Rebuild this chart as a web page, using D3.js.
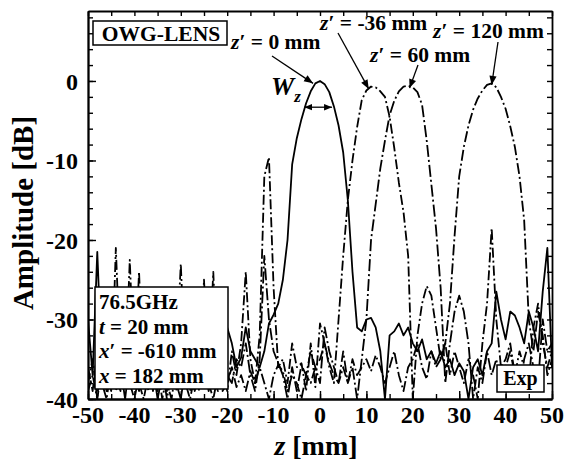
<!DOCTYPE html>
<html>
<head>
<meta charset="utf-8">
<script src="https://cdn.jsdelivr.net/npm/d3@7"></script>
<style>
  html, body { margin: 0; padding: 0; background: #fff; }
  svg { display: block; font-family: "Liberation Serif", "Times New Roman", serif; font-weight: bold; }
</style>
</head>
<body>
<svg id="chart" width="565" height="461"></svg>
<script>
// Scan positions z [mm]
const zPositions = d3.range(-50, 51, 1);

// Measured amplitude [dB] for each z' focus setting
const ampZ0 = [
  -30, -37, -21.5, -36, -39, -34, -38, -36, -40, -35,
  -37, -39, -34, -38, -36, -40, -37, -39, -35, -38,
  -40, -36, -34, -39, -37, -35, -39, -36, -38, -34,
  -31, -33, -36, -34.8, -31, -34, -35, -36, -34, -30.5,
  -29.4, -28, -25, -20, -10.5, -7.2, -4.8, -2.8, -1.3, -0.3,
  0,
  -0.4, -1.4, -3.2, -5.6, -9, -15, -24, -31, -31.5, -30,
  -29.8, -31, -34, -40, -32, -31.5, -30.5, -32, -31, -33,
  -34, -32.5, -35, -34, -35.5, -34, -36, -35, -37, -35.5,
  -36.5, -40, -36, -35, -37, -34, -33, -26.5, -30, -32.5,
  -29, -29.5, -31, -33, -29, -31, -34, -26.5, -21, -36
];
const ampZm36 = [
  -38, -35, -40, -33, -37, -39, -21, -36, -38, -22.5,
  -37, -24, -38, -35, -39, -36, -40, -37, -38, -35,
  -23, -37, -39, -36, -38, -25, -37, -24, -38, -36,
  -39, -34, -37, -33, -24, -35, -38, -32, -12, -9.6,
  -26, -36, -35, -38, -33, -36, -35.5, -39, -33, -38.5,
  -30.5,
  -33, -36, -38, -30, -22, -15, -10, -5.8, -2.4, -1.2,
  -0.7, -0.8, -1.3, -2, -4.5, -8.4, -12.8, -16.5, -22, -40,
  -32, -28, -25.8, -27, -31, -35, -33, -37, -34, -36,
  -38, -35, -37, -40, -33, -28, -18.5, -30, -36, -35,
  -33, -37, -34, -36, -38, -31, -28, -33, -36, -34
];
const ampZ60 = [
  -36, -39, -34, -38, -40, -36, -37, -39, -35, -38,
  -36, -38, -40, -37, -35, -39, -36, -38, -40, -36,
  -38, -35, -37, -39, -36, -38, -35, -37, -39, -34,
  -37, -38, -35, -36, -33, -37, -39, -35, -22, -30,
  -34, -35.5, -37, -40, -36, -39, -35.7, -37, -34, -36,
  -38,
  -31, -34, -36, -38, -34, -38, -36, -40, -35, -30,
  -20, -15.5, -11, -7.5, -4.3, -2.5, -1.3, -0.7, -0.6, -0.8,
  -1.4, -3, -7.5, -13, -18.5, -26, -38, -33, -29, -27,
  -29, -33, -40, -36, -38, -34, -37, -35, -38, -36,
  -34, -37, -39, -35, -33, -36, -38, -30, -34, -33
];
const ampZ120 = [
  -39, -37, -40, -36, -38, -35, -39, -37, -36, -38,
  -40, -37, -35, -39, -37, -38, -36, -40, -37, -39,
  -36, -38, -40, -37, -39, -36, -38, -40, -37, -39,
  -38, -36, -38.5, -37, -39, -36.5, -38, -36, -38, -40,
  -37, -35.7, -36.5, -39, -37, -38, -40, -37, -38, -36,
  -35,
  -33, -35.5, -37, -38, -36, -38, -35, -37, -36, -35,
  -36.5, -34.5, -36, -38, -36, -34, -37, -39, -36, -35,
  -33, -36, -37.5, -34, -36, -35, -33, -28, -19.5, -12,
  -8.3, -5.6, -3.6, -2.2, -1.2, -0.5, -0.3, -0.8, -2, -3.5,
  -5.7, -8.3, -12, -17.5, -30, -34, -29, -32, -37, -35
];

const seriesList = [
  { name: "z'=0",   values: ampZ0,   dash: null },
  { name: "z'=-36", values: ampZm36, dash: "10,3,2,3" },
  { name: "z'=60",  values: ampZ60,  dash: "12,3,2,3" },
  { name: "z'=120", values: ampZ120, dash: "11,3,2,3" }
];

const xTicksMajor = [-50, -40, -30, -20, -10, 0, 10, 20, 30, 40, 50];
const yTicksMajor = [-40, -30, -20, -10, 0];

const svg = d3.select("#chart");
const plotL = 88, plotR = 552, plotT = 11, plotB = 399;

const x = d3.scaleLinear().domain([-50, 50]).range([plotL, plotR]);
const y = d3.scaleLinear().domain([-40, 8.8]).range([plotB, plotT]);

// arrow markers
const defs = svg.append("defs");
defs.append("marker").attr("id", "arrow").attr("viewBox", "0 0 10 10")
  .attr("refX", 10).attr("refY", 5).attr("markerWidth", 10).attr("markerHeight", 9)
  .attr("markerUnits", "userSpaceOnUse").attr("orient", "auto")
  .append("path").attr("d", "M0,1 L10,5 L0,9 Z").attr("fill", "#000");
defs.append("marker").attr("id", "arrowStart").attr("viewBox", "0 0 10 10")
  .attr("refX", 0).attr("refY", 5).attr("markerWidth", 8).attr("markerHeight", 8)
  .attr("markerUnits", "userSpaceOnUse").attr("orient", "auto")
  .append("path").attr("d", "M10,1 L0,5 L10,9 Z").attr("fill", "#000");
defs.append("marker").attr("id", "arrowEnd2").attr("viewBox", "0 0 10 10")
  .attr("refX", 10).attr("refY", 5).attr("markerWidth", 8).attr("markerHeight", 8)
  .attr("markerUnits", "userSpaceOnUse").attr("orient", "auto")
  .append("path").attr("d", "M0,1 L10,5 L0,9 Z").attr("fill", "#000");
defs.append("clipPath").attr("id", "plotClip")
  .append("rect").attr("x", plotL).attr("y", plotT).attr("width", plotR - plotL).attr("height", plotB - plotT);

// curves
const line = d3.line().x((d, i) => x(zPositions[i])).y(d => y(d));
const curves = svg.append("g").attr("clip-path", "url(#plotClip)");
seriesList.forEach(s => {
  curves.append("path")
    .datum(s.values)
    .attr("d", line)
    .attr("fill", "none")
    .attr("stroke", "#000")
    .attr("stroke-width", 1.8)
    .attr("stroke-linejoin", "round")
    .attr("stroke-dasharray", s.dash);
});

// axes (ticks inward, mirrored on top/right)
const xMinor = d3.range(-50, 51, 5);
const yMinor = d3.range(-40, 9, 2);
const axisStyle = g => {
  g.selectAll(".domain").attr("stroke-width", 1.8);
  g.selectAll(".tick line").attr("stroke-width", 1.4);
};
const xAxisB = d3.axisBottom(x).tickValues(xMinor).tickSizeInner(-5).tickSizeOuter(0).tickFormat("");
const xAxisT = d3.axisTop(x).tickValues(xMinor).tickSizeInner(-5).tickSizeOuter(0).tickFormat("");
const yAxisL = d3.axisLeft(y).tickValues(yMinor).tickSizeInner(-5).tickSizeOuter(0).tickFormat("");
const yAxisR = d3.axisRight(y).tickValues(yMinor).tickSizeInner(-5).tickSizeOuter(0).tickFormat("");
svg.append("g").attr("transform", `translate(0,${plotB})`).call(xAxisB).call(axisStyle);
svg.append("g").attr("transform", `translate(0,${plotT})`).call(xAxisT).call(axisStyle);
svg.append("g").attr("transform", `translate(${plotL},0)`).call(yAxisL).call(axisStyle);
svg.append("g").attr("transform", `translate(${plotR},0)`).call(yAxisR).call(axisStyle);
// major ticks longer
svg.append("g").attr("transform", `translate(0,${plotB})`)
  .call(d3.axisBottom(x).tickValues(xTicksMajor).tickSizeInner(-8).tickSizeOuter(0).tickFormat(""))
  .call(axisStyle);
svg.append("g").attr("transform", `translate(${plotL},0)`)
  .call(d3.axisLeft(y).tickValues(yTicksMajor).tickSizeInner(-8).tickSizeOuter(0).tickFormat(""))
  .call(axisStyle);

// tick labels
svg.append("g").selectAll("text").data(xTicksMajor).join("text")
  .attr("x", d => x(d)).attr("y", 423).attr("text-anchor", "middle")
  .attr("font-size", 24).text(d => d);
svg.append("g").selectAll("text").data(yTicksMajor).join("text")
  .attr("x", 78).attr("y", d => y(d) + 9).attr("text-anchor", "end")
  .attr("font-size", 24).text(d => d);

// axis titles
svg.append("text").attr("x", 316).attr("y", 455).attr("text-anchor", "middle").attr("font-size", 28)
  .call(t => { t.append("tspan").attr("font-style", "italic").text("z"); t.append("tspan").text(" [mm]"); });
svg.append("text").attr("transform", "translate(33,213) rotate(-90)").attr("text-anchor", "middle")
  .attr("font-size", 29).text("Amplitude [dB]");

// boxed labels
function boxLabel(bx, by, bw, bh) {
  svg.append("rect").attr("x", bx).attr("y", by).attr("width", bw).attr("height", bh)
    .attr("fill", "#fff").attr("stroke", "#000").attr("stroke-width", 1.5);
}
boxLabel(93, 21, 134, 24);
svg.append("text").attr("x", 161).attr("y", 41).attr("text-anchor", "middle").attr("font-size", 21.5).text("OWG-LENS");

boxLabel(95, 287, 133, 102);
const infoLines = [
  [["", "76.5GHz"]],
  [["i", "t"], ["", " = 20 mm"]],
  [["i", "x"], ["", "′ = -610 mm"]],
  [["i", "x"], ["", " = 182 mm"]]
];
infoLines.forEach((parts, i) => {
  const t = svg.append("text").attr("x", 99).attr("y", 309 + i * 24.7).attr("font-size", 21);
  parts.forEach(p => t.append("tspan").attr("font-style", p[0] === "i" ? "italic" : "normal").text(p[1]));
});

boxLabel(497, 365, 47, 27);
svg.append("text").attr("x", 520.5).attr("y", 385).attr("text-anchor", "middle").attr("font-size", 20).text("Exp");

// z' labels with arrows to peaks
function zLabel(tx, ty, val) {
  const t = svg.append("text").attr("x", tx).attr("y", ty).attr("font-size", 21.5);
  t.append("tspan").attr("font-style", "italic").text("z");
  t.append("tspan").text("′ = " + val + " mm");
}
zLabel(231, 49, "0");
zLabel(320, 30, "-36");
zLabel(433, 38, "120");
zLabel(370, 62, "60");

function arrow(x1, y1, x2, y2) {
  svg.append("line").attr("x1", x1).attr("y1", y1).attr("x2", x2).attr("y2", y2)
    .attr("stroke", "#000").attr("stroke-width", 1.3).attr("marker-end", "url(#arrow)");
}
arrow(272, 56, x(-1.5), y(-0.3));
arrow(338, 33, x(10.5), y(-1.0));
arrow(418, 65, x(19.3), y(-0.9));
arrow(498, 42, x(37.0), y(-0.5));

// W_z beam width marker
svg.append("line").attr("x1", x(-3.4)).attr("x2", x(2.6)).attr("y1", y(-3.3)).attr("y2", y(-3.3))
  .attr("stroke", "#000").attr("stroke-width", 1.3)
  .attr("marker-end", "url(#arrowEnd2)").attr("marker-start", "url(#arrowStart)");
const wz = svg.append("text").attr("x", 271).attr("y", 95).attr("font-size", 26).attr("font-style", "italic");
wz.append("tspan").text("W");
wz.append("tspan").attr("font-size", 17).attr("dy", 7).text("z");
</script>
</body>
</html>
